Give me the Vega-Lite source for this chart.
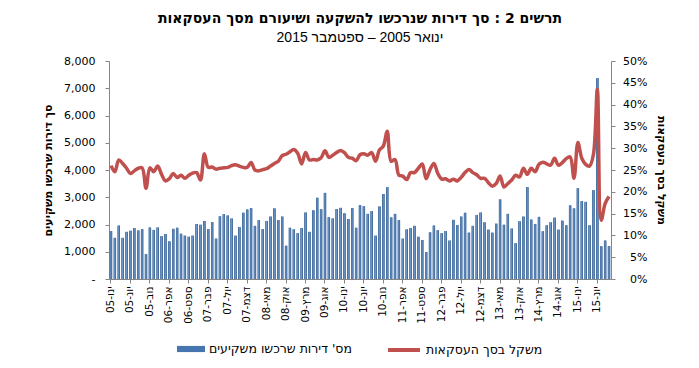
{
  "$schema": "https://vega.github.io/schema/vega-lite/v6.json",
  "autosize": "none",
  "width": 502,
  "height": 218,
  "padding": {"left": 109, "top": 61, "right": 88, "bottom": 89},
  "background": "white",
  "config": {"view": {"stroke": null}, "font": "DejaVu Sans"},
  "title": {
    "text": "תרשים 2 : סך דירות שנרכשו להשקעה ושיעורם מסך העסקאות",
    "subtitle": "ינואר 2005 – ספטמבר 2015",
    "font": "DejaVu Sans", "fontSize": 14, "fontWeight": "bold", "color": "#000000",
    "subtitleFont": "Liberation Sans", "subtitleFontSize": 14, "subtitleColor": "#000000",
    "subtitlePadding": 5, "anchor": "middle", "offset": 10
  },
  "data": {"values": [
    {"m":"ינו-05","v":1760,"p":0.260},{"m":"פבר-05","v":1510,"p":0.246},{"m":"מרץ-05","v":1960,"p":0.273},{"m":"אפר-05","v":1510,"p":0.265},{"m":"מאי-05","v":1730,"p":0.254},{"m":"יונ-05","v":1770,"p":0.242},{"m":"יול-05","v":1870,"p":0.248},{"m":"אוג-05","v":1780,"p":0.254},{"m":"ספט-05","v":1830,"p":0.255},{"m":"אוק-05","v":910,"p":0.208},{"m":"נוב-05","v":1890,"p":0.255},{"m":"דצמ-05","v":1800,"p":0.246},
    {"m":"ינו-06","v":1890,"p":0.259},{"m":"פבר-06","v":1570,"p":0.240},{"m":"מרץ-06","v":1650,"p":0.225},{"m":"אפר-06","v":1380,"p":0.230},{"m":"מאי-06","v":1840,"p":0.242},{"m":"יונ-06","v":1880,"p":0.233},{"m":"יול-06","v":1660,"p":0.238},{"m":"אוג-06","v":1590,"p":0.231},{"m":"ספט-06","v":1550,"p":0.238},{"m":"אוק-06","v":1590,"p":0.243},{"m":"נוב-06","v":2020,"p":0.244},{"m":"דצמ-06","v":1990,"p":0.227},
    {"m":"ינו-07","v":2130,"p":0.287},{"m":"פבר-07","v":1830,"p":0.256},{"m":"מרץ-07","v":2090,"p":0.257},{"m":"אפר-07","v":1480,"p":0.252},{"m":"מאי-07","v":2300,"p":0.254},{"m":"יונ-07","v":2380,"p":0.255},{"m":"יול-07","v":2330,"p":0.256},{"m":"אוג-07","v":2220,"p":0.260},{"m":"ספט-07","v":1590,"p":0.262},{"m":"אוק-07","v":1910,"p":0.259},{"m":"נוב-07","v":2430,"p":0.256},{"m":"דצמ-07","v":2550,"p":0.256},
    {"m":"ינו-08","v":2600,"p":0.267},{"m":"פבר-08","v":1950,"p":0.250},{"m":"מרץ-08","v":2160,"p":0.248},{"m":"אפר-08","v":1830,"p":0.251},{"m":"מאי-08","v":2130,"p":0.253},{"m":"יונ-08","v":2290,"p":0.259},{"m":"יול-08","v":2590,"p":0.265},{"m":"אוג-08","v":2160,"p":0.270},{"m":"ספט-08","v":2290,"p":0.283},{"m":"אוק-08","v":1220,"p":0.286},{"m":"נוב-08","v":1880,"p":0.292},{"m":"דצמ-08","v":1820,"p":0.297},
    {"m":"ינו-09","v":1680,"p":0.288},{"m":"פבר-09","v":1870,"p":0.264},{"m":"מרץ-09","v":2440,"p":0.290},{"m":"אפר-09","v":1730,"p":0.273},{"m":"מאי-09","v":2520,"p":0.274},{"m":"יונ-09","v":2980,"p":0.273},{"m":"יול-09","v":2560,"p":0.278},{"m":"אוג-09","v":3160,"p":0.294},{"m":"ספט-09","v":2270,"p":0.279},{"m":"אוק-09","v":2220,"p":0.284},{"m":"נוב-09","v":2570,"p":0.290},{"m":"דצמ-09","v":2610,"p":0.295},
    {"m":"ינו-10","v":2410,"p":0.290},{"m":"פבר-10","v":2200,"p":0.279},{"m":"מרץ-10","v":2600,"p":0.277},{"m":"אפר-10","v":1880,"p":0.271},{"m":"מאי-10","v":2710,"p":0.285},{"m":"יונ-10","v":2670,"p":0.287},{"m":"יול-10","v":2390,"p":0.284},{"m":"אוג-10","v":2490,"p":0.290},{"m":"ספט-10","v":1590,"p":0.270},{"m":"אוק-10","v":2660,"p":0.296},{"m":"נוב-10","v":3120,"p":0.305},{"m":"דצמ-10","v":3370,"p":0.339},
    {"m":"ינו-11","v":2260,"p":0.270},{"m":"פבר-11","v":2390,"p":0.274},{"m":"מרץ-11","v":2160,"p":0.238},{"m":"אפר-11","v":1480,"p":0.236},{"m":"מאי-11","v":1820,"p":0.228},{"m":"יונ-11","v":1870,"p":0.244},{"m":"יול-11","v":1950,"p":0.244},{"m":"אוג-11","v":1550,"p":0.254},{"m":"ספט-11","v":1430,"p":0.264},{"m":"אוק-11","v":990,"p":0.230},{"m":"נוב-11","v":1710,"p":0.251},{"m":"דצמ-11","v":1960,"p":0.265},
    {"m":"ינו-12","v":1790,"p":0.242},{"m":"פבר-12","v":1680,"p":0.229},{"m":"מרץ-12","v":1760,"p":0.230},{"m":"אפר-12","v":1410,"p":0.225},{"m":"מאי-12","v":2170,"p":0.229},{"m":"יונ-12","v":1980,"p":0.225},{"m":"יול-12","v":2290,"p":0.233},{"m":"אוג-12","v":2430,"p":0.244},{"m":"ספט-12","v":1700,"p":0.251},{"m":"אוק-12","v":1950,"p":0.244},{"m":"נוב-12","v":2350,"p":0.239},{"m":"דצמ-12","v":2440,"p":0.231},
    {"m":"ינו-13","v":2080,"p":0.231},{"m":"פבר-13","v":1810,"p":0.221},{"m":"מרץ-13","v":1700,"p":0.213},{"m":"אפר-13","v":2030,"p":0.219},{"m":"מאי-13","v":2920,"p":0.236},{"m":"יונ-13","v":1990,"p":0.211},{"m":"יול-13","v":2390,"p":0.219},{"m":"אוג-13","v":1850,"p":0.227},{"m":"ספט-13","v":1310,"p":0.238},{"m":"אוק-13","v":2120,"p":0.234},{"m":"נוב-13","v":2290,"p":0.254},{"m":"דצמ-13","v":3370,"p":0.240},
    {"m":"ינו-14","v":2180,"p":0.254},{"m":"פבר-14","v":2020,"p":0.246},{"m":"מרץ-14","v":2280,"p":0.263},{"m":"אפר-14","v":1750,"p":0.268},{"m":"מאי-14","v":1970,"p":0.264},{"m":"יונ-14","v":2080,"p":0.261},{"m":"יול-14","v":2250,"p":0.277},{"m":"אוג-14","v":1810,"p":0.261},{"m":"ספט-14","v":2140,"p":0.267},{"m":"אוק-14","v":1970,"p":0.276},{"m":"נוב-14","v":2700,"p":0.280},{"m":"דצמ-14","v":2590,"p":0.231},
    {"m":"ינו-15","v":3330,"p":0.313},{"m":"פבר-15","v":2860,"p":0.277},{"m":"מרץ-15","v":2830,"p":0.263},{"m":"אפר-15","v":1970,"p":0.259},{"m":"מאי-15","v":3260,"p":0.286},{"m":"יונ-15","v":7370,"p":0.435},{"m":"יול-15","v":1200,"p":0.135},{"m":"אוג-15","v":1410,"p":0.173},{"m":"ספט-15","v":1210,"p":0.189}
  ]},
  "encoding": {
    "x": {
      "field": "m", "type": "ordinal", "sort": null,
      "scale": {"paddingInner": 0.4, "paddingOuter": 0.21},
      "axis": {
        "title": null,
        "values": ["ינו-05","יונ-05","נוב-05","אפר-06","ספט-06","פבר-07","יול-07","דצמ-07","מאי-08","אוק-08","מרץ-09","אוג-09","ינו-10","יונ-10","נוב-10","אפר-11","ספט-11","פבר-12","יול-12","דצמ-12","מאי-13","אוק-13","מרץ-14","אוג-14","ינו-15","יונ-15"],
        "labelAngle": -90, "labelFont": "DejaVu Sans", "labelFontSize": 10.5, "labelColor": "#000000",
        "labelPadding": 3, "tickSize": 4, "domainColor": "#868686", "tickColor": "#868686", "grid": false, "labelOverlap": false
      }
    }
  },
  "layer": [
    {
      "encoding": {
        "y": {
          "field": "v", "type": "quantitative",
          "scale": {"domain": [0, 8000], "nice": false},
          "axis": {
            "title": "סך דירות שרכשו משקיעים", "titleFont": "DejaVu Sans", "titleFontSize": 11, "titleFontWeight": "bold", "titleColor": "#000000", "titlePadding": 10,
            "values": [0,1000,2000,3000,4000,5000,6000,7000,8000],
            "labelExpr": "datum.value === 0 ? '-\u00a0\u00a0' : format(datum.value, ',')",
            "labelOverlap": false,
            "labelFont": "DejaVu Sans", "labelFontSize": 11, "labelColor": "#000000", "labelPadding": 10,
            "tickSize": 4, "domainColor": "#868686", "tickColor": "#868686", "grid": false
          }
        }
      },
      "layer": [
        {
          "mark": {"type": "bar"},
          "encoding": {
            "fill": {
              "datum": "מס' דירות שרכשו משקיעים", "type": "nominal",
              "scale": {"range": ["#4576B2"]},
              "legend": {
                "title": null, "orient": "none", "legendX": 68, "legendY": 274, "padding": 0,
                "symbolType": "M-1,-0.22H1V0.22H-1Z", "symbolSize": 784, "symbolStrokeWidth": 0,
                "labelFont": "DejaVu Sans", "labelFontSize": 12.5, "labelColor": "#000000", "labelOffset": 4
              }
            }
          }
        },
        {
          "mark": {
            "type": "bar",
            "color": {"gradient": "linear", "x1": 0, "x2": 1, "y1": 0, "y2": 0,
              "stops": [{"offset": 0, "color": "#35608F"}, {"offset": 0.45, "color": "#6E97CB"}, {"offset": 1, "color": "#30598A"}]}
          }
        }
      ]
    },
    {
      "mark": {"type": "line", "interpolate": "catmull-rom", "strokeWidth": 3.5},
      "encoding": {
        "y": {
          "field": "p", "type": "quantitative",
          "scale": {"domain": [0, 0.5], "nice": false},
          "axis": {
            "orient": "right",
            "title": "משקל בסך העסקאות", "titleFont": "DejaVu Sans", "titleFontSize": 11, "titleFontWeight": "bold", "titleColor": "#000000", "titlePadding": 8,
            "values": [0,0.05,0.1,0.15,0.2,0.25,0.3,0.35,0.4,0.45,0.5],
            "format": ".0%", "labelAlign": "right", "labelPadding": 32, "labelOverlap": false,
            "labelFont": "DejaVu Sans", "labelFontSize": 11, "labelColor": "#000000",
            "tickSize": 4, "domainColor": "#868686", "tickColor": "#868686", "grid": false
          }
        },
        "stroke": {
          "datum": "משקל בסך העסקאות", "type": "nominal",
          "scale": {"range": ["#C0504D"]},
          "legend": {
            "title": null, "orient": "none", "legendX": 277, "legendY": 271, "padding": 0,
            "symbolType": "stroke", "symbolSize": 1024, "symbolStrokeWidth": 4,
            "labelFont": "DejaVu Sans", "labelFontSize": 12.5, "labelColor": "#000000", "labelOffset": 4
          }
        }
      }
    }
  ],
  "resolve": {"scale": {"y": "independent"}}
}
